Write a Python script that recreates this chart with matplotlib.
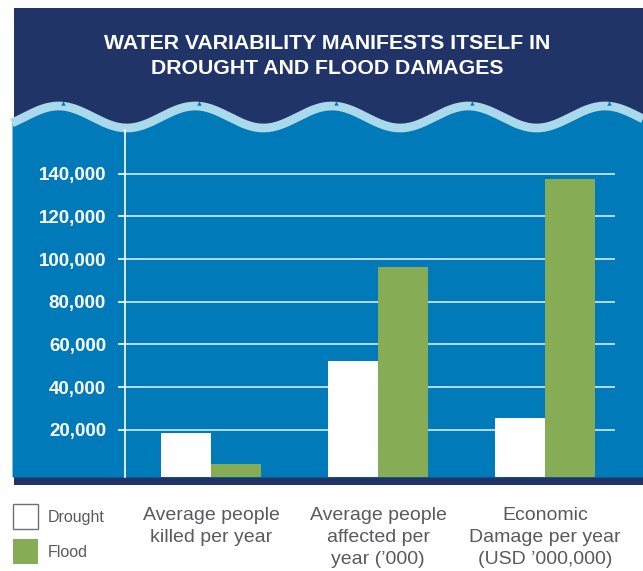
import matplotlib.pyplot as plt
import numpy as np
from matplotlib.patches import Rectangle
from matplotlib.ticker import FuncFormatter

plt.rcParams['font.family'] = ['Liberation Sans', 'DejaVu Sans']

# data
categories = ['Average people\nkilled per year',
              'Average people\naffected per\nyear (\u2019000)',
              'Economic\nDamage per year\n(USD \u2019000,000)']
drought = [18400, 52000, 25700]
flood = [3800, 96500, 137600]
yticks = [20000, 40000, 60000, 80000, 100000, 120000, 140000]
series = ['Drought', 'Flood']

navy = '#213468'
blue = '#007ab9'
light = '#a9d9ea'
green = '#86ad55'
grey = '#595a5c'

W, H = 643, 571
fig = plt.figure(figsize=(W / 100, H / 100), dpi=100)
fig.patch.set_facecolor('white')

# background drawn in pixel coords
bg = fig.add_axes([0, 0, 1, 1], zorder=0)
bg.set_xlim(0, W)
bg.set_ylim(H, 0)
bg.axis('off')
bg.add_patch(Rectangle((14, 8), W - 14, 477, color=navy, lw=0))
wx = np.linspace(12, W, 600)
wy = 117 - 11 * np.cos(2 * np.pi * (wx - 58.6) / 136.6)
bg.fill_between(wx, wy, 477, color=blue, lw=0)
bg.plot(wx, wy, color=light, lw=6.3, solid_capstyle='butt')
crests = 58.6 + 136.6 * np.arange(5)
bg.scatter(crests + 4, np.full(5, 102.5), marker='^', s=10, color=blue, lw=0, zorder=3)

fig.text(327 / W, 1 - 56 / H, 'WATER VARIABILITY MANIFESTS ITSELF IN\nDROUGHT AND FLOOD DAMAGES',
         ha='center', va='center', color='white', fontsize=15.3, fontweight='bold',
         linespacing=1.45)

# bars
ax = fig.add_axes([125 / W, 1 - 477 / H, 490 / W, 347 / H], zorder=1)
ax.patch.set_alpha(0)
y0 = -2156
ax.set_ylim(y0, 160490)
ax.set_xlim(-0.515, 2.419)
x = np.arange(len(categories))
w = 0.3
b1 = ax.bar(x - w / 2, np.array(drought) - y0, w, bottom=y0, color='white', lw=0, label=series[0])
b2 = ax.bar(x + w / 2, np.array(flood) - y0, w, bottom=y0, color=green, lw=0, label=series[1])

ax.set_yticks(yticks)
ax.yaxis.set_major_formatter(FuncFormatter(lambda v, p: f'{int(v):,}'))
ax.tick_params(axis='y', colors='white', length=5, width=1.2, pad=8.6,
               labelsize=13.5)
for t in ax.get_yticklabels():
    t.set_fontweight('bold')
ax.yaxis.grid(True, color='#d5eaf4', lw=1.2)
ax.set_axisbelow(True)
for s in ['top', 'right', 'bottom']:
    ax.spines[s].set_visible(False)
ax.spines['left'].set_color('white')
ax.spines['left'].set_linewidth(1.2)

ax.set_xticks(x)
ax.set_xticklabels(categories, color=grey, fontsize=14, linespacing=1.38)
ax.tick_params(axis='x', length=0, pad=21.5)

leg = ax.legend(loc='upper left', bbox_to_anchor=(13 / W, 1 - 504 / H),
                bbox_transform=fig.transFigure, frameon=False, fontsize=11.5,
                borderpad=0, borderaxespad=0, handlelength=1.56, handleheight=2.027,
                labelspacing=0.63, handletextpad=0.63)
for t in leg.get_texts():
    t.set_color(grey)
leg.legend_handles[0].set_edgecolor('#6d7075')
leg.legend_handles[0].set_linewidth(1)

fig.savefig('out.png', dpi=100)
